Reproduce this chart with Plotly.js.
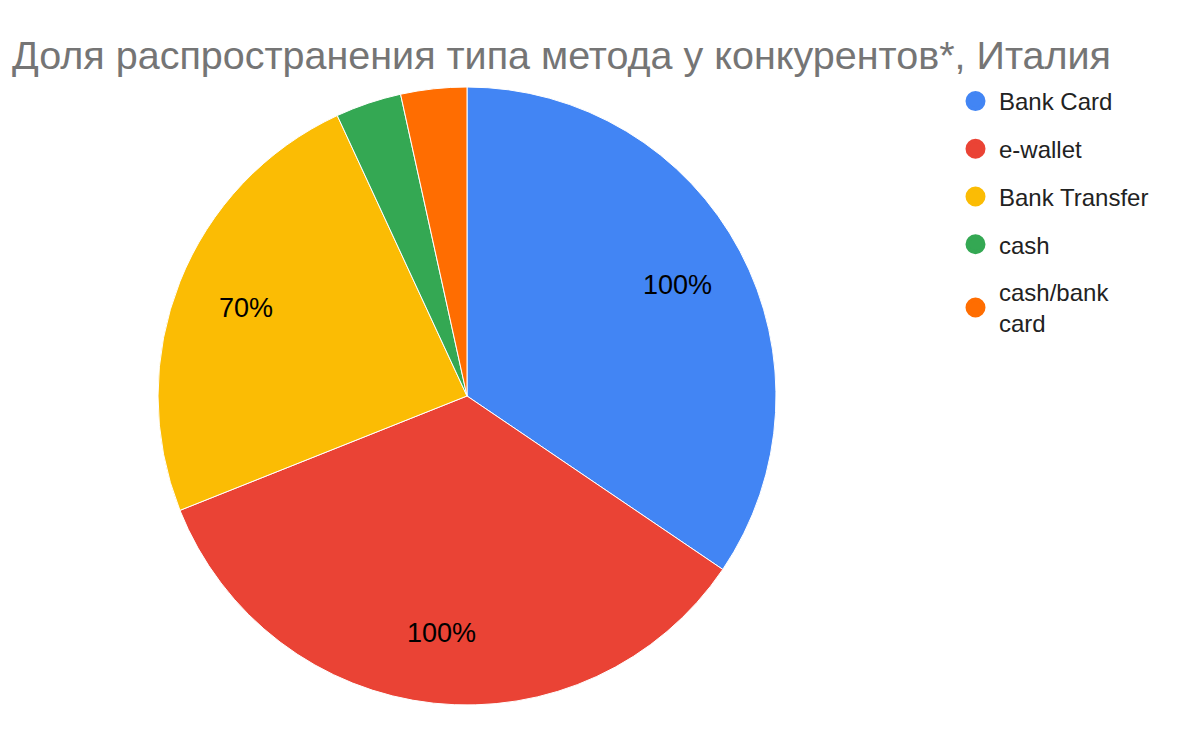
<!DOCTYPE html>
<html>
<head>
<meta charset="utf-8">
<script src="https://cdn.plot.ly/plotly-3.0.1.min.js"></script>
<style>
  html, body { margin: 0; padding: 0; background: #fff; }
  #chart { width: 1200px; height: 742px; }
</style>
</head>
<body>
<div id="chart"></div>
<script>
const methods = ['Bank Card', 'e-wallet', 'Bank Transfer', 'cash', 'cash/bank card'];
const legendNames = ['Bank Card', 'e-wallet', 'Bank Transfer', 'cash', 'cash/bank<br>card'];
const shares = [100, 100, 70, 10, 10];
const sliceColors = ['#4285F4', '#EA4335', '#FBBC04', '#34A853', '#FF6D01'];
// small slices carry no label, like the original
const labelShown = [true, true, true, false, false];

const W = 1200, H = 742;
const cx = 467, cy = 396, R = 309;

const pie = {
  type: 'pie',
  labels: methods,
  values: shares,
  sort: false,
  direction: 'clockwise',
  rotation: 0,
  marker: { colors: sliceColors, line: { color: '#ffffff', width: 1 } },
  textinfo: 'none',
  hoverinfo: 'label+value',
  showlegend: false,
  domain: { x: [(cx - R) / W, (cx + R) / W], y: [1 - (cy + R) / H, 1 - (cy - R) / H] }
};

// value labels sit further out than plotly's own inside text, so place them at the slice mid-angle
const total = shares.reduce((a, b) => a + b, 0);
let acc = 0;
const labelNotes = [];
shares.forEach((v, i) => {
  const mid = (acc + v / 2) / total * 2 * Math.PI;
  acc += v;
  if (!labelShown[i]) return;
  const r = 0.77 * R;
  labelNotes.push({
    text: v + '%',
    xref: 'paper', yref: 'paper',
    x: (cx + r * Math.sin(mid)) / W,
    y: 1 - (cy - r * Math.cos(mid)) / H,
    xanchor: 'center', yanchor: 'middle',
    showarrow: false,
    font: { family: 'Liberation Sans, Arial', size: 27, color: '#000000' }
  });
});

// legend entries drawn as round markers
const legendTraces = methods.map((m, i) => ({
  type: 'scatter',
  mode: 'markers',
  x: [null],
  y: [null],
  name: legendNames[i],
  legendgroup: 'g' + i,
  marker: { color: sliceColors[i], size: 24, symbol: 'circle', line: { color: sliceColors[i], width: 4 } },
  hoverinfo: 'skip'
}));

const layout = {
  width: W,
  height: H,
  margin: { l: 0, r: 0, t: 0, b: 0 },
  paper_bgcolor: '#ffffff',
  plot_bgcolor: '#ffffff',
  xaxis: { visible: false },
  yaxis: { visible: false },
  title: {
    text: 'Доля распространения типа метода у конкурентов*, Италия',
    font: { family: 'Liberation Sans, Arial', size: 39.5, color: '#757575' },
    x: 12 / W,
    xref: 'container',
    xanchor: 'left',
    y: 1 - 55 / H,
    yref: 'container',
    yanchor: 'middle'
  },
  annotations: labelNotes,
  legend: {
    x: 952 / W,
    y: 1 - 79 / H,
    xanchor: 'left',
    yanchor: 'top',
    traceorder: 'grouped',
    tracegroupgap: 13.5,
    itemsizing: 'trace',
    itemwidth: 37,
    font: { family: 'Liberation Sans, Arial', size: 24, color: '#222222' },
    bgcolor: 'rgba(0,0,0,0)'
  },
  showlegend: true
};

Plotly.newPlot('chart', [pie].concat(legendTraces), layout, { displayModeBar: false });
</script>
</body>
</html>
